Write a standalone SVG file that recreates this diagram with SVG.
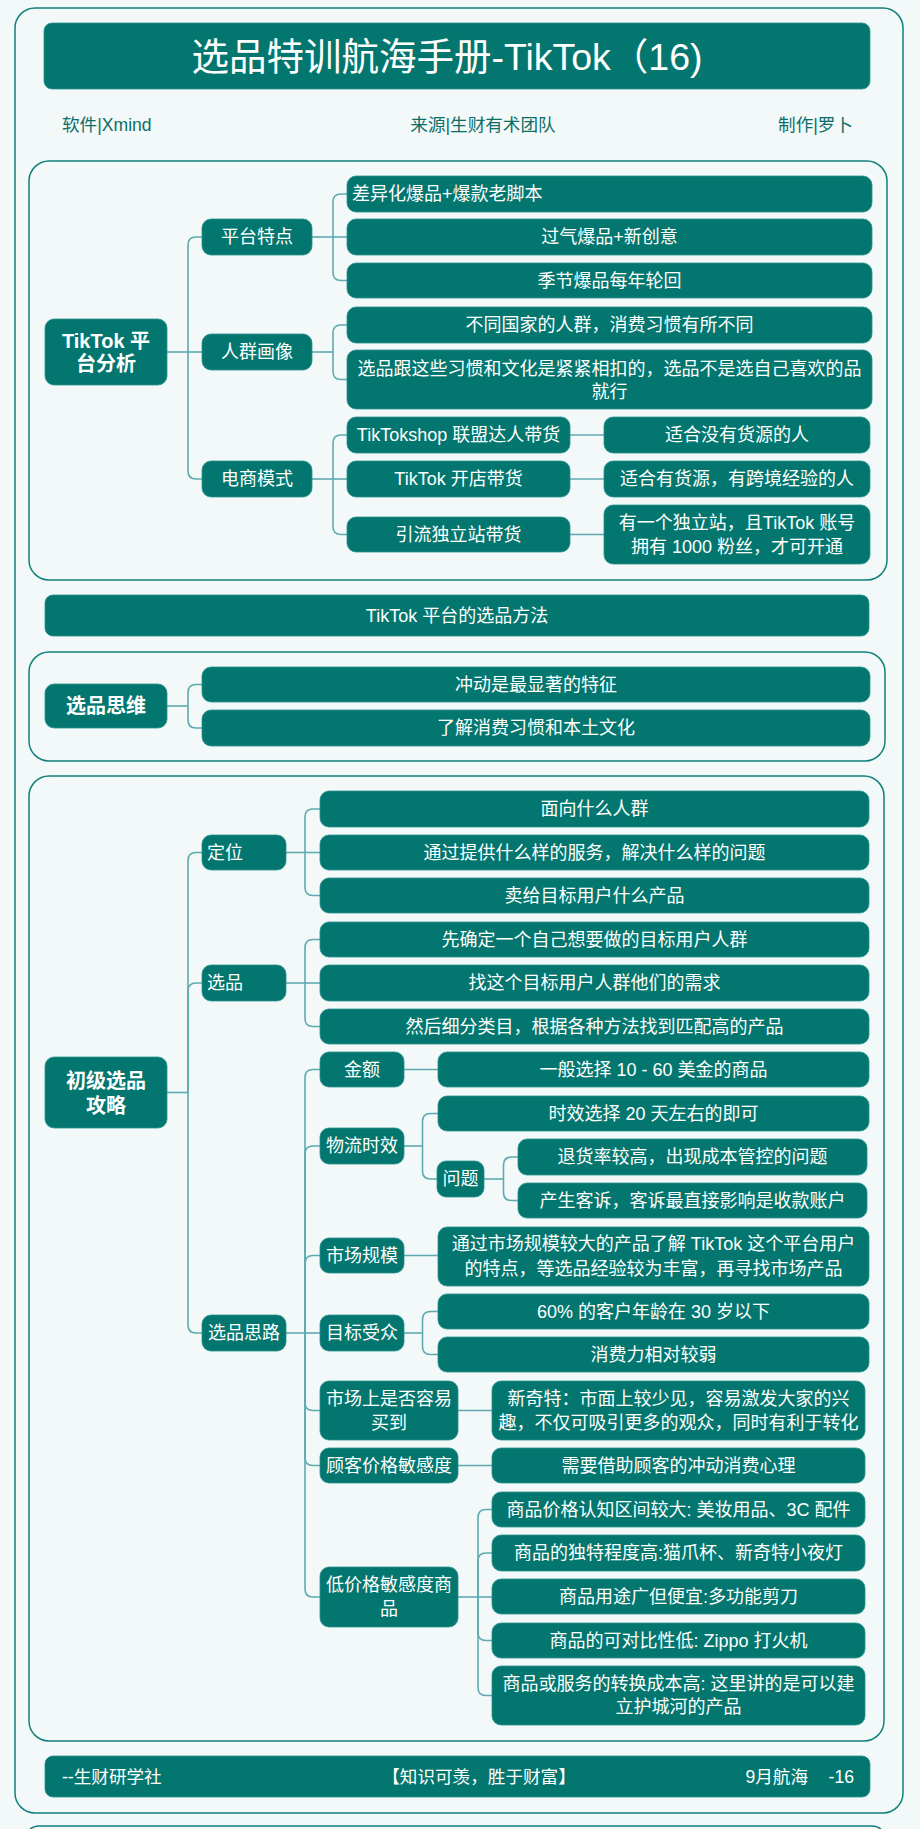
<svg xmlns="http://www.w3.org/2000/svg" width="920" height="1829" viewBox="0 0 920 1829">
<style>
text{font-family:"Liberation Sans","Noto Sans CJK SC",sans-serif}
.n rect{fill:#03776f;stroke:#2a928e;stroke-width:0.8}
.t{fill:#fff;font-size:18px;text-anchor:middle;dominant-baseline:central}
.l{text-anchor:start}
.b{font-weight:bold;font-size:20px}
.frame{fill:none;stroke:#12807c;stroke-width:1.5}
.sub{fill:#0d6e68;font-size:17.6px;dominant-baseline:central}
#connectors path{fill:none;stroke:#5eaab0;stroke-width:1.6}
</style>
<rect x="0" y="0" width="920" height="1829" fill="#f2f9f8"/>
<rect class="frame" x="15" y="8" width="888" height="1805" rx="20"/>
<rect class="frame" x="25" y="1826" width="861" height="40" rx="14"/>

<g id="title" class="n">
<rect x="44" y="23" width="826" height="66" rx="8"/>
<text class="t" x="447" y="57" style="font-size:37.5px">选品特训航海手册-TikTok（16)</text>
</g>
<g id="subtitle">
<text class="sub" x="62" y="125">软件|Xmind</text>
<text class="sub" x="483" y="125" text-anchor="middle">来源|生财有术团队</text>
<text class="sub" x="853" y="125" text-anchor="end">制作|罗卜</text>
</g>

<rect class="frame" x="29" y="161" width="858" height="419" rx="20"/>
<rect class="frame" x="29" y="652" width="856" height="109" rx="20"/>
<rect class="frame" x="29" y="776" width="855" height="965" rx="20"/>

<g id="connectors">
<path d="M167,352H188"/><path d="M188,352V245Q188,237 196,237H202"/><path d="M188,352H202"/><path d="M188,352V471Q188,479 196,479H202"/>
<path d="M312,237H333"/><path d="M333,237V202Q333,194 341,194H347"/><path d="M333,237H347"/><path d="M333,237V272.5Q333,280.5 341,280.5H347"/>
<path d="M312,352H333"/><path d="M333,352V333Q333,325 341,325H347"/><path d="M333,352V371.5Q333,379.5 341,379.5H347"/>
<path d="M312,479H333"/><path d="M333,479V443Q333,435 341,435H347"/><path d="M333,479H347"/><path d="M333,479V526.5Q333,534.5 341,534.5H347"/>
<path d="M570,435H604"/><path d="M570,479H604"/><path d="M570,534.5H604"/>
<path d="M167,706H188"/><path d="M188,706V692.5Q188,684.5 196,684.5H202"/><path d="M188,706V720Q188,728 196,728H202"/>
<path d="M167,1092.5H188"/><path d="M188,1092.5V860.5Q188,852.5 196,852.5H202"/><path d="M188,1092.5V991Q188,983 196,983H202"/><path d="M188,1092.5V1325Q188,1333 196,1333H202"/>
<path d="M286,852.5H305"/><path d="M305,852.5V817Q305,809 313,809H320"/><path d="M305,852.5H320"/><path d="M305,852.5V887.5Q305,895.5 313,895.5H320"/>
<path d="M286,983H305"/><path d="M305,983V947.5Q305,939.5 313,939.5H320"/><path d="M305,983H320"/><path d="M305,983V1018.5Q305,1026.5 313,1026.5H320"/>
<path d="M286,1333H305"/><path d="M305,1333V1077.5Q305,1069.5 313,1069.5H320"/><path d="M305,1333V1154Q305,1146 313,1146H320"/><path d="M305,1333V1263.5Q305,1255.5 313,1255.5H320"/><path d="M305,1333H320"/><path d="M305,1333V1402.5Q305,1410.5 313,1410.5H320"/><path d="M305,1333V1457.5Q305,1465.5 313,1465.5H320"/><path d="M305,1333V1589Q305,1597 313,1597H320"/>
<path d="M404,1069.5H438"/>
<path d="M404,1146H422.5"/><path d="M422.5,1146V1121.5Q422.5,1113.5 430.5,1113.5H438"/><path d="M422.5,1146V1171Q422.5,1179 430.5,1179H437"/>
<path d="M484,1179H503.5"/><path d="M503.5,1179V1165Q503.5,1157 511.5,1157H518"/><path d="M503.5,1179V1192.5Q503.5,1200.5 511.5,1200.5H518"/>
<path d="M404,1255.5H438"/>
<path d="M404,1333H422.5"/><path d="M422.5,1333V1319.5Q422.5,1311.5 430.5,1311.5H438"/><path d="M422.5,1333V1346.5Q422.5,1354.5 430.5,1354.5H438"/>
<path d="M458,1410.5H492"/><path d="M458,1465.5H492"/>
<path d="M458,1597H478"/><path d="M478,1597V1517.5Q478,1509.5 486,1509.5H492"/><path d="M478,1597V1561Q478,1553 486,1553H492"/><path d="M478,1597H492"/><path d="M478,1597V1632.5Q478,1640.5 486,1640.5H492"/><path d="M478,1597V1687.5Q478,1695.5 486,1695.5H492"/>
</g>

<g id="n-tiktok" class="n"><rect x="45" y="319" width="122" height="66" rx="9"/><text class="t b" x="106" y="341">TikTok 平</text><text class="t b" x="106" y="364">台分析</text></g>
<g id="n-ptd" class="n"><rect x="202" y="219" width="110" height="36" rx="9"/><text class="t" x="257" y="237">平台特点</text></g>
<g id="n-rqhx" class="n"><rect x="202" y="334" width="110" height="36" rx="9"/><text class="t" x="257" y="352">人群画像</text></g>
<g id="n-dsms" class="n"><rect x="202" y="461" width="110" height="36" rx="9"/><text class="t" x="257" y="479">电商模式</text></g>
<g id="n-p1" class="n"><rect x="347" y="176" width="525" height="36" rx="9"/><text class="t l" x="352" y="194">差异化爆品+爆款老脚本</text></g>
<g id="n-p2" class="n"><rect x="347" y="219" width="525" height="36" rx="9"/><text class="t" x="609.5" y="237">过气爆品+新创意</text></g>
<g id="n-p3" class="n"><rect x="347" y="263" width="525" height="35" rx="9"/><text class="t" x="609.5" y="280.5">季节爆品每年轮回</text></g>
<g id="n-r1" class="n"><rect x="347" y="307" width="525" height="36" rx="9"/><text class="t" x="609.5" y="325">不同国家的人群，消费习惯有所不同</text></g>
<g id="n-r2" class="n"><rect x="347" y="350" width="525" height="59" rx="9"/><text class="t" x="609.5" y="369">选品跟这些习惯和文化是紧紧相扣的，选品不是选自己喜欢的品</text><text class="t" x="609.5" y="392">就行</text></g>
<g id="n-e1" class="n"><rect x="347" y="417" width="223" height="36" rx="9"/><text class="t" x="458.5" y="435">TikTokshop 联盟达人带货</text></g>
<g id="n-e2" class="n"><rect x="347" y="461" width="223" height="36" rx="9"/><text class="t" x="458.5" y="479">TikTok 开店带货</text></g>
<g id="n-e3" class="n"><rect x="347" y="517" width="223" height="35" rx="9"/><text class="t" x="458.5" y="534.5">引流独立站带货</text></g>
<g id="n-e1a" class="n"><rect x="604" y="417" width="266" height="36" rx="9"/><text class="t" x="737" y="435">适合没有货源的人</text></g>
<g id="n-e2a" class="n"><rect x="604" y="461" width="266" height="36" rx="9"/><text class="t" x="737" y="479">适合有货源，有跨境经验的人</text></g>
<g id="n-e3a" class="n"><rect x="604" y="505" width="266" height="59" rx="9"/><text class="t" x="737" y="523">有一个独立站，且TikTok 账号</text><text class="t" x="737" y="547">拥有 1000 粉丝，才可开通</text></g>

<g id="n-method" class="n"><rect x="45" y="595" width="824" height="41" rx="8"/><text class="t" x="457" y="615.5" style="font-size:18px">TikTok 平台的选品方法</text></g>

<g id="n-xpsw" class="n"><rect x="45" y="684" width="122" height="44" rx="9"/><text class="t b" x="106" y="706">选品思维</text></g>
<g id="n-s1" class="n"><rect x="202" y="667" width="668" height="35" rx="9"/><text class="t" x="536" y="684.5">冲动是最显著的特征</text></g>
<g id="n-s2" class="n"><rect x="202" y="710" width="668" height="36" rx="9"/><text class="t" x="536" y="728">了解消费习惯和本土文化</text></g>

<g id="n-cjxp" class="n"><rect x="45" y="1057" width="122" height="71" rx="9"/><text class="t b" x="106" y="1081">初级选品</text><text class="t b" x="106" y="1106">攻略</text></g>
<g id="n-dw" class="n"><rect x="202" y="835" width="84" height="35" rx="9"/><text class="t l" x="207" y="852.5">定位</text></g>
<g id="n-xp" class="n"><rect x="202" y="965" width="84" height="36" rx="9"/><text class="t l" x="207" y="983">选品</text></g>
<g id="n-xpsl" class="n"><rect x="202" y="1315" width="84" height="36" rx="9"/><text class="t" x="244" y="1333">选品思路</text></g>
<g id="n-d1" class="n"><rect x="320" y="791" width="549" height="36" rx="9"/><text class="t" x="594.5" y="809">面向什么人群</text></g>
<g id="n-d2" class="n"><rect x="320" y="835" width="549" height="35" rx="9"/><text class="t" x="594.5" y="852.5">通过提供什么样的服务，解决什么样的问题</text></g>
<g id="n-d3" class="n"><rect x="320" y="878" width="549" height="35" rx="9"/><text class="t" x="594.5" y="895.5">卖给目标用户什么产品</text></g>
<g id="n-x1" class="n"><rect x="320" y="922" width="549" height="35" rx="9"/><text class="t" x="594.5" y="939.5">先确定一个自己想要做的目标用户人群</text></g>
<g id="n-x2" class="n"><rect x="320" y="965" width="549" height="36" rx="9"/><text class="t" x="594.5" y="983">找这个目标用户人群他们的需求</text></g>
<g id="n-x3" class="n"><rect x="320" y="1009" width="549" height="35" rx="9"/><text class="t" x="594.5" y="1026.5">然后细分类目，根据各种方法找到匹配高的产品</text></g>

<g id="n-je" class="n"><rect x="320" y="1052" width="84" height="35" rx="9"/><text class="t" x="362" y="1069.5">金额</text></g>
<g id="n-je1" class="n"><rect x="438" y="1052" width="431" height="35" rx="9"/><text class="t" x="653.5" y="1069.5">一般选择 10 - 60 美金的商品</text></g>
<g id="n-wl" class="n"><rect x="320" y="1128" width="84" height="36" rx="9"/><text class="t" x="362" y="1146">物流时效</text></g>
<g id="n-wl1" class="n"><rect x="438" y="1096" width="431" height="35" rx="9"/><text class="t" x="653.5" y="1113.5">时效选择 20 天左右的即可</text></g>
<g id="n-wt" class="n"><rect x="437" y="1161" width="47" height="36" rx="9"/><text class="t" x="460.5" y="1179">问题</text></g>
<g id="n-wt1" class="n"><rect x="518" y="1139" width="349" height="36" rx="9"/><text class="t" x="692.5" y="1157">退货率较高，出现成本管控的问题</text></g>
<g id="n-wt2" class="n"><rect x="518" y="1183" width="349" height="35" rx="9"/><text class="t" x="692.5" y="1200.5">产生客诉，客诉最直接影响是收款账户</text></g>
<g id="n-scgm" class="n"><rect x="320" y="1238" width="84" height="35" rx="9"/><text class="t" x="362" y="1255.5">市场规模</text></g>
<g id="n-scgm1" class="n"><rect x="438" y="1227" width="431" height="59" rx="9"/><text class="t" x="653.5" y="1244">通过市场规模较大的产品了解 TikTok 这个平台用户</text><text class="t" x="653.5" y="1269">的特点，等选品经验较为丰富，再寻找市场产品</text></g>
<g id="n-mbsz" class="n"><rect x="320" y="1315" width="84" height="36" rx="9"/><text class="t" x="362" y="1333">目标受众</text></g>
<g id="n-mbsz1" class="n"><rect x="438" y="1294" width="431" height="35" rx="9"/><text class="t" x="653.5" y="1311.5">60% 的客户年龄在 30 岁以下</text></g>
<g id="n-mbsz2" class="n"><rect x="438" y="1337" width="431" height="35" rx="9"/><text class="t" x="653.5" y="1354.5">消费力相对较弱</text></g>
<g id="n-scs" class="n"><rect x="320" y="1381" width="138" height="59" rx="9"/><text class="t" x="389" y="1399">市场上是否容易</text><text class="t" x="389" y="1423">买到</text></g>
<g id="n-scs1" class="n"><rect x="492" y="1381" width="373" height="59" rx="9"/><text class="t" x="678.5" y="1399">新奇特：市面上较少见，容易激发大家的兴</text><text class="t" x="678.5" y="1423">趣，不仅可吸引更多的观众，同时有利于转化</text></g>
<g id="n-gk" class="n"><rect x="320" y="1448" width="138" height="35" rx="9"/><text class="t" x="389" y="1465.5">顾客价格敏感度</text></g>
<g id="n-gk1" class="n"><rect x="492" y="1448" width="373" height="35" rx="9"/><text class="t" x="678.5" y="1465.5">需要借助顾客的冲动消费心理</text></g>
<g id="n-dj" class="n"><rect x="320" y="1567" width="138" height="60" rx="9"/><text class="t" x="389" y="1585">低价格敏感度商</text><text class="t" x="389" y="1609">品</text></g>
<g id="n-dj1" class="n"><rect x="492" y="1492" width="373" height="35" rx="9"/><text class="t" x="678.5" y="1509.5">商品价格认知区间较大: 美妆用品、3C 配件</text></g>
<g id="n-dj2" class="n"><rect x="492" y="1535" width="373" height="36" rx="9"/><text class="t" x="678.5" y="1553">商品的独特程度高:猫爪杯、新奇特小夜灯</text></g>
<g id="n-dj3" class="n"><rect x="492" y="1579" width="373" height="35" rx="9"/><text class="t" x="678.5" y="1596.5">商品用途广但便宜:多功能剪刀</text></g>
<g id="n-dj4" class="n"><rect x="492" y="1623" width="373" height="35" rx="9"/><text class="t" x="678.5" y="1640.5">商品的可对比性低: Zippo 打火机</text></g>
<g id="n-dj5" class="n"><rect x="492" y="1666" width="373" height="59" rx="9"/><text class="t" x="678.5" y="1684">商品或服务的转换成本高: 这里讲的是可以建</text><text class="t" x="678.5" y="1707">立护城河的产品</text></g>

<g id="footer" class="n">
<rect x="45" y="1756" width="825" height="41" rx="8"/>
<text class="t l" x="62" y="1776.5" style="font-size:17.6px">--生财研学社</text>
<text class="t" x="479" y="1776.5" style="font-size:17.6px">【知识可羡，胜于财富】</text>
<text class="t" x="854" y="1776.5" style="font-size:17.6px;text-anchor:end"><tspan x="808">9月航海</tspan><tspan x="854">-16</tspan></text>
</g>
</svg>
